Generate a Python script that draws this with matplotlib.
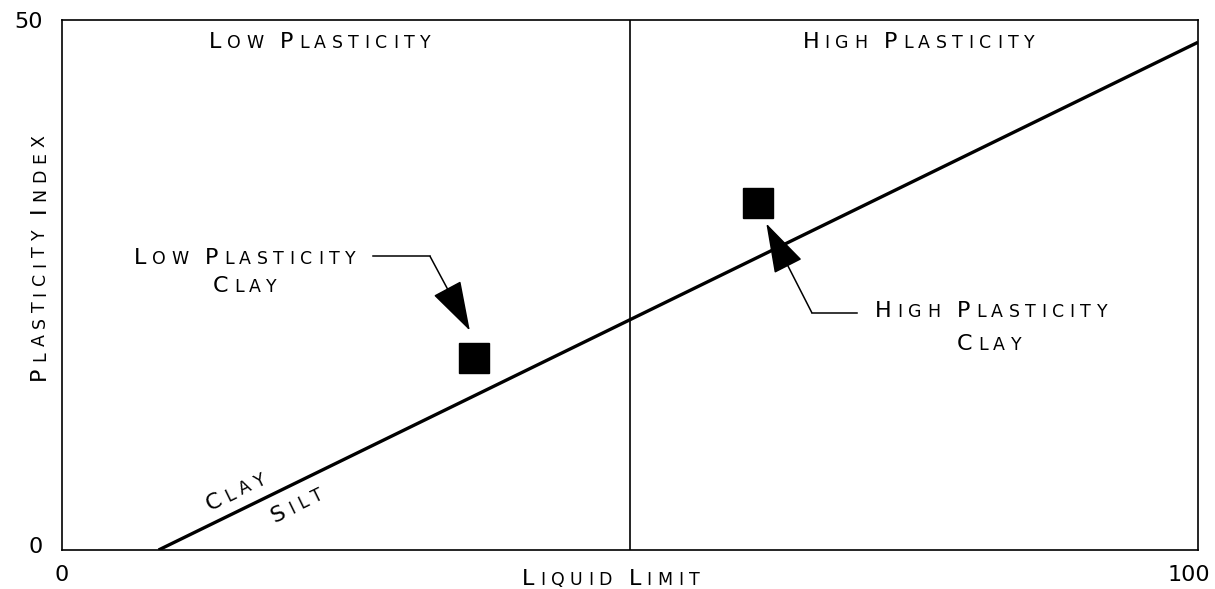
import numpy as np
import matplotlib
matplotlib.use("Agg")
import matplotlib.pyplot as plt
import matplotlib.transforms as mtrans

plt.rcParams['font.family'] = ['DejaVu Sans']

# DATOS
linea_ll = [8.5, 100.0]      # linea A (arcilla / limo)
linea_pi = [0.0, 47.9]
muestras_ll = [36.3, 61.3]   # arcilla baja / alta plasticidad
muestras_pi = [18.1, 32.7]
limite_ll = 50
ticks_x = [0, 100]
ticks_y = [0, 50]

fig = plt.figure(figsize=(12.15, 5.89), dpi=100)
ax = fig.add_axes([62 / 1215, 39 / 589, 1136 / 1215, 530 / 589])
ax.set_xlim(0, 100)
ax.set_ylim(0, 50)
for s in ax.spines.values():
    s.set_linewidth(1.2)

renderer = fig.canvas.get_renderer()
GRANDE = 16
CHICA = 12.5
TRACK = 4.0   # espacio extra entre letras, en puntos


def ancho(texto, size):
    # ancho de avance en puntos, medido entre dos H
    t1 = ax.text(0, 0, "H" + texto + "H", fontsize=size)
    t2 = ax.text(0, 0, "HH", fontsize=size)
    w = t1.get_window_extent(renderer).width - t2.get_window_extent(renderer).width
    t1.remove()
    t2.remove()
    return w * 72 / fig.dpi


def versalitas(x, y, texto, angulo=0, ha='center', perp=0):
    letras = []
    for ch in texto:
        size = GRANDE if (ch.isupper() or ch.isdigit()) else CHICA
        letras.append((ch.upper(), size, ancho(ch.upper(), size) + TRACK))
    total = sum(l[2] for l in letras) - TRACK
    pos = {'center': -total / 2, 'left': 0, 'right': -total}[ha]
    a = np.radians(angulo)
    for ch, size, w in letras:
        if ch != ' ':
            dx = pos * np.cos(a) - perp * np.sin(a)
            dy = pos * np.sin(a) + perp * np.cos(a)
            ax.annotate(ch, (x, y), xytext=(dx, dy), textcoords='offset points',
                        fontsize=size, rotation=angulo, rotation_mode='anchor',
                        ha='left', va='baseline', annotation_clip=False)
        pos += w


# linea A y limite liquido 50
ax.plot(linea_ll, linea_pi, color='black', lw=2.4, solid_capstyle='butt')
ax.axvline(limite_ll, color='black', lw=1.2)
ax.plot(muestras_ll, muestras_pi, 's', color='black', markersize=21)

# ejes
ax.set_xticks(ticks_x)
ax.set_xticklabels([str(v) for v in ticks_x], fontsize=16)
ax.set_yticks(ticks_y)
ax.set_yticklabels([str(v) for v in ticks_y], fontsize=16)
ax.tick_params(axis='x', length=0, pad=11)
ax.tick_params(axis='y', length=0, pad=14)

# el 100 no cabe centrado: alineado a la derecha, un poco desplazado
lab100 = ax.get_xticklabels()[-1]
lab100.set_ha('right')
lab100.set_transform(lab100.get_transform() +
                     mtrans.ScaledTranslation(12 / 100, 0, fig.dpi_scale_trans))
lab0 = ax.get_yticklabels()[0]
lab0.set_transform(lab0.get_transform() +
                   mtrans.ScaledTranslation(0, 5 / 100, fig.dpi_scale_trans))

# textos
versalitas(22.7, 47.4, "Low Plasticity")
versalitas(75.4, 47.4, "High Plasticity")
versalitas(48.3, -3.3, "Liquid Limit")
versalitas(-1.5, 27.6, "Plasticity Index", angulo=90)

# angulo de la linea A en pantalla
p0 = ax.transData.transform((linea_ll[0], linea_pi[0]))
p1 = ax.transData.transform((linea_ll[1], linea_pi[1]))
ang = np.degrees(np.arctan2(p1[1] - p0[1], p1[0] - p0[0]))
versalitas(16.0, np.interp(16.0, linea_ll, linea_pi), "Clay", angulo=ang, perp=9)
versalitas(19.9, np.interp(19.9, linea_ll, linea_pi), "Silt", angulo=ang, perp=-19)

# etiquetas con flecha
versalitas(16.1, 27.0, "Low Plasticity")
versalitas(16.1, 24.3, "Clay")
versalitas(81.8, 22.0, "High Plasticity")
versalitas(81.6, 18.9, "Clay")

flecha = dict(arrowstyle='-|>,head_length=1.6,head_width=0.5', mutation_scale=20,
              color='black', lw=1.1, shrinkA=0, shrinkB=0)
ax.plot([27.4, 32.4], [27.7, 27.7], color='black', lw=1.1)
ax.annotate("", xy=(35.9, 20.7), xytext=(32.4, 27.7), arrowprops=flecha)
ax.plot([70.0, 66.0], [22.4, 22.4], color='black', lw=1.1)
ax.annotate("", xy=(62.0, 30.8), xytext=(66.0, 22.4), arrowprops=flecha)

fig.savefig("out.png", dpi=100)
